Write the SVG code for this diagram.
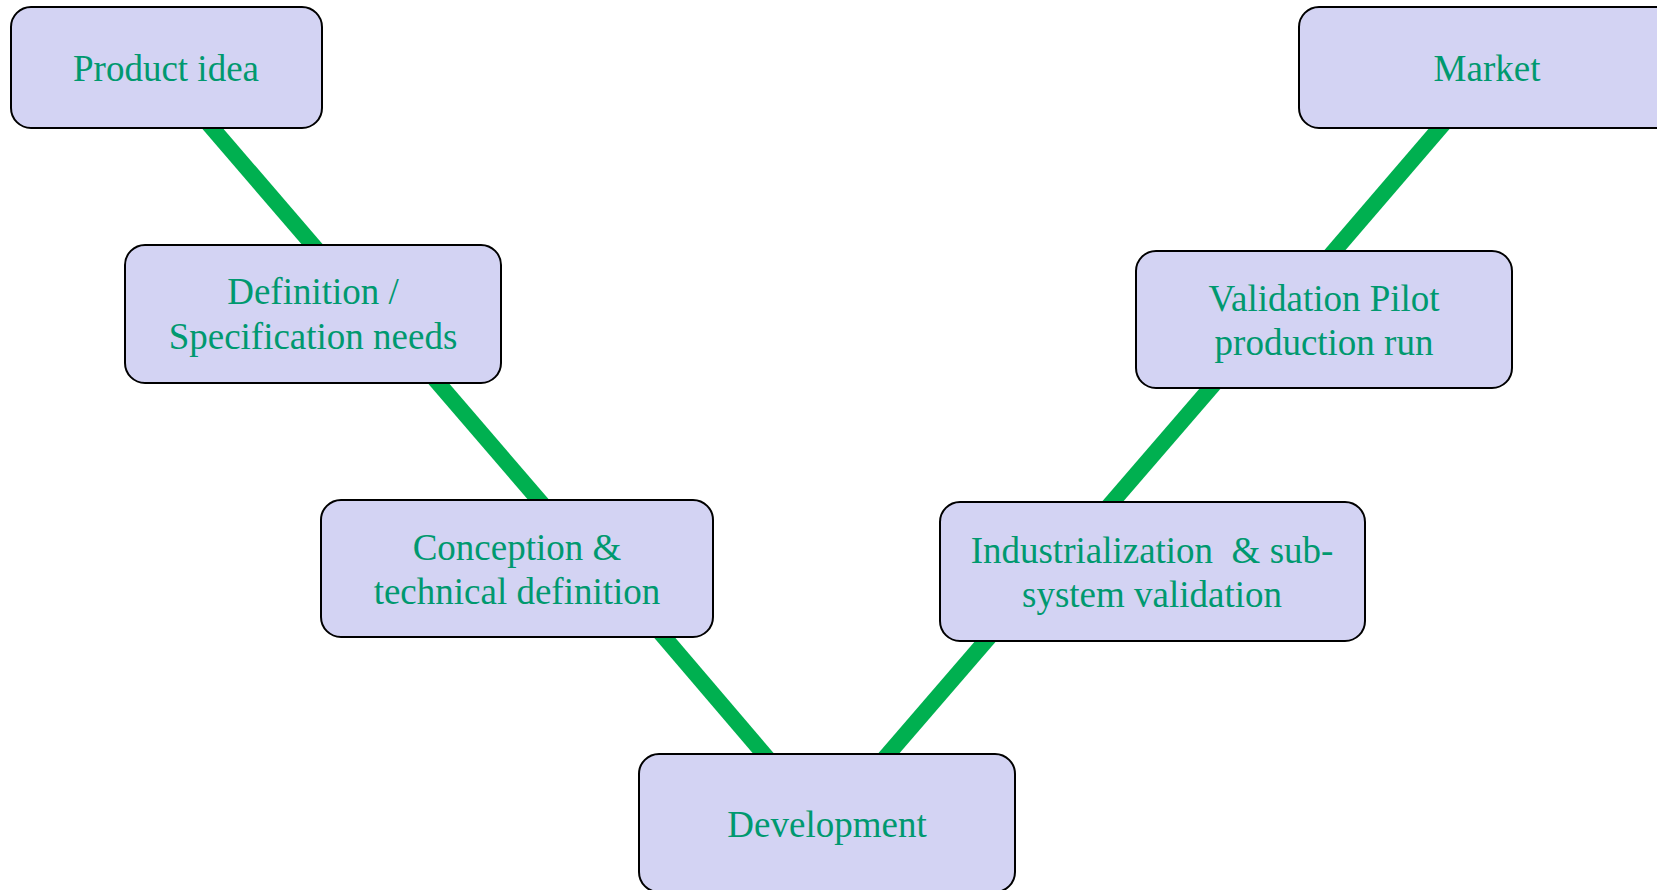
<svg xmlns="http://www.w3.org/2000/svg" width="1657" height="890" viewBox="0 0 1657 890">
<style>
.box{fill:#d3d3f3;stroke:#000;stroke-width:2}
.lbl{font-family:"Liberation Serif","Times New Roman",serif;font-size:37px;fill:#00996f;text-anchor:middle;white-space:pre}
.conn{stroke:#00b050;stroke-width:16;fill:none;stroke-linecap:butt}
</style>
<rect width="1657" height="890" fill="#fff"/>
<g id="connectors">
<line class="conn" x1="195" y1="108" x2="330" y2="265"/>
<line class="conn" x1="421" y1="363" x2="556" y2="520"/>
<line class="conn" x1="647" y1="617" x2="781" y2="774"/>
<line class="conn" x1="1003" y1="621" x2="871" y2="774"/>
<line class="conn" x1="1227" y1="369" x2="1095" y2="522"/>
<line class="conn" x1="1457" y1="108" x2="1317" y2="271"/>
</g>
<g id="product-idea">
<rect class="box" x="11" y="7" width="311" height="121" rx="20"/>
<text class="lbl" x="166" y="81">Product idea</text>
</g>
<g id="market">
<rect class="box" x="1299" y="7" width="376" height="121" rx="20"/>
<text class="lbl" x="1487" y="81">Market</text>
</g>
<g id="definition">
<rect class="box" x="125" y="245" width="376" height="138" rx="20"/>
<text class="lbl" x="313" y="304">Definition /</text>
<text class="lbl" x="313" y="349">Specification needs</text>
</g>
<g id="validation">
<rect class="box" x="1136" y="251" width="376" height="137" rx="20"/>
<text class="lbl" x="1324" y="311">Validation Pilot</text>
<text class="lbl" x="1324" y="355">production run</text>
</g>
<g id="conception">
<rect class="box" x="321" y="500" width="392" height="137" rx="20"/>
<text class="lbl" x="517" y="560">Conception &amp;</text>
<text class="lbl" x="517" y="604">technical definition</text>
</g>
<g id="industrialization">
<rect class="box" x="940" y="502" width="425" height="139" rx="20"/>
<text class="lbl" x="1152" y="563" xml:space="preserve">Industrialization  &amp; sub-</text>
<text class="lbl" x="1152" y="607">system validation</text>
</g>
<g id="development">
<rect class="box" x="639" y="754" width="376" height="138" rx="20"/>
<text class="lbl" x="827" y="837">Development</text>
</g>
</svg>
